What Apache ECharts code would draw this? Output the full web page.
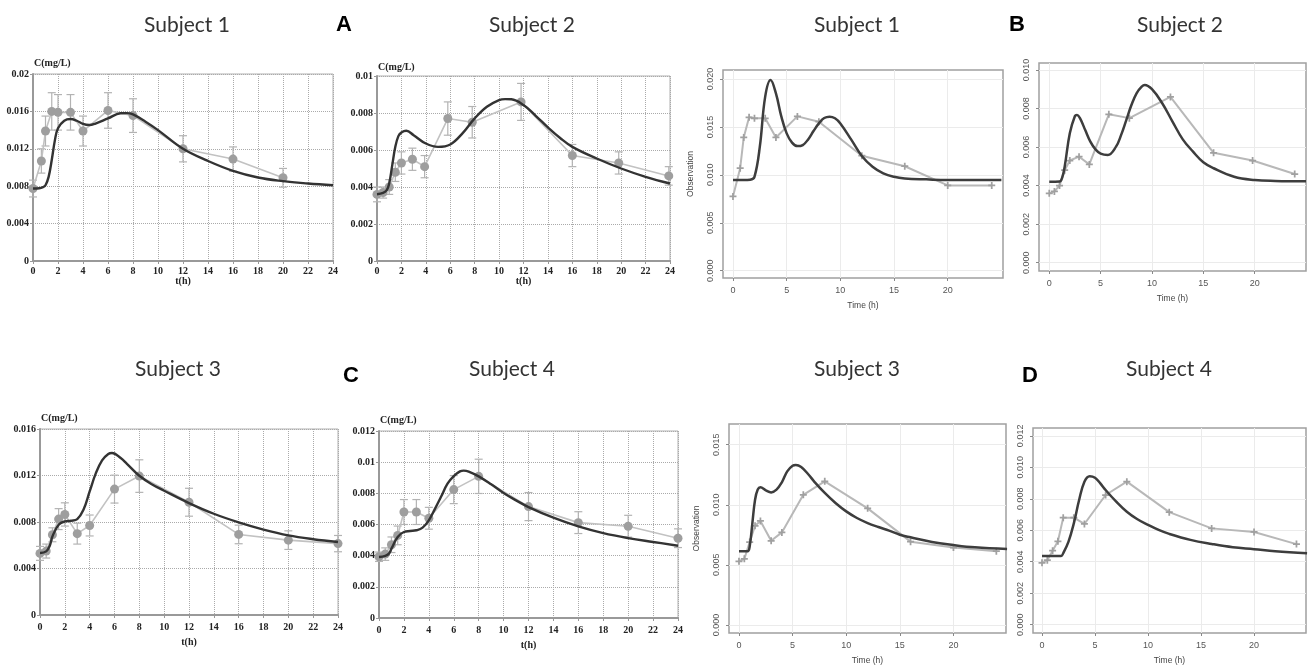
<!DOCTYPE html>
<html>
<head>
<meta charset="utf-8">
<script src="https://cdn.jsdelivr.net/npm/echarts@6/dist/echarts.min.js"></script>
<style>
  html, body { margin: 0; padding: 0; background: #fff; }
  #chart { width: 1310px; height: 669px; }
</style>
</head>
<body>
<div id="chart"></div>
<script>
// observed concentrations (mean, SD) per subject
var s1Time = [0, 0.67, 1, 1.5, 2, 3, 4, 6, 8, 12, 16, 20];
var s1Mean = [0.00775, 0.0107, 0.0139, 0.0160, 0.0159, 0.0159, 0.0139, 0.0161, 0.01555, 0.0120, 0.0109, 0.0089];
var s1Sd   = [0.0009, 0.0013, 0.0016, 0.002, 0.0019, 0.0019, 0.0016, 0.0019, 0.0018, 0.0014, 0.0013, 0.001];
var s1Late = [[24.1, 0.0089]];

var s2Time = [0, 0.5, 1, 1.5, 2, 2.9, 3.9, 5.8, 7.8, 11.8, 16, 19.8, 23.9];
var s2Mean = [0.0036, 0.0037, 0.0040, 0.0048, 0.0053, 0.0055, 0.0051, 0.0077, 0.0075, 0.0086, 0.0057, 0.0053, 0.0046];
var s2Sd   = [0.0004, 0.0003, 0.0004, 0.0005, 0.0006, 0.0006, 0.0006, 0.0009, 0.00085, 0.001, 0.0006, 0.0006, 0.0005];

var s3Time = [0, 0.5, 1, 1.5, 2, 3, 4, 6, 8, 12, 16, 20, 24];
var s3Mean = [0.0053, 0.0055, 0.0069, 0.00825, 0.00865, 0.0070, 0.0077, 0.01083, 0.01195, 0.0097, 0.00693, 0.00644, 0.00614];
var s3Sd   = [0.0006, 0.0006, 0.0006, 0.0009, 0.001, 0.0009, 0.0009, 0.0012, 0.0014, 0.0012, 0.0008, 0.0008, 0.0007];

var s4Time = [0, 0.5, 1, 1.5, 2, 3, 4, 6, 8, 12, 16, 20, 24];
var s4Mean = [0.00393, 0.0041, 0.0047, 0.0053, 0.0068, 0.0068, 0.0064, 0.00824, 0.00909, 0.00715, 0.00612, 0.00589, 0.00512];
var s4Sd   = [0.0003, 0.0004, 0.0005, 0.0006, 0.0008, 0.0008, 0.0007, 0.0009, 0.0011, 0.0009, 0.0007, 0.0007, 0.0006];

// fitted curves, panels A / C
var s1Fit = [[0,0.00775],[0.5,0.00778],[0.8,0.0079],[1,0.0081],[1.25,0.009],[1.5,0.0108],[1.75,0.0129],[2,0.0142],[2.5,0.015],[3,0.01518],[3.5,0.015],[4,0.01466],[4.5,0.01454],[5,0.0147],[6,0.01525],[7,0.0158],[7.5,0.01582],[8,0.01568],[9,0.0149],[10,0.014],[12,0.012],[14,0.0107],[16,0.00964],[18,0.00893],[20,0.00854],[22,0.00829],[24,0.0081]];
var s2Fit = [[0,0.00361],[0.5,0.00368],[0.8,0.00383],[1,0.00419],[1.25,0.00518],[1.5,0.00617],[1.75,0.00675],[2,0.00695],[2.4,0.00704],[3,0.0068],[4,0.00635],[5,0.00617],[6,0.0063],[7,0.0069],[8,0.00771],[9,0.00834],[10,0.0087],[10.5,0.00875],[11,0.00874],[12,0.00843],[13,0.00785],[14,0.00722],[15,0.00665],[16,0.00617],[18,0.00554],[20,0.005],[22,0.00455],[24,0.00419]];
var s3Fit = [[0,0.00533],[0.5,0.00547],[0.8,0.006],[1,0.00676],[1.5,0.00776],[2,0.00805],[2.5,0.00811],[3,0.00825],[3.5,0.00905],[4,0.01063],[4.5,0.0122],[5,0.0133],[5.5,0.01385],[5.8,0.01393],[6.5,0.0135],[7,0.01301],[8,0.01198],[9,0.01125],[10,0.01069],[12,0.00963],[14,0.00871],[16,0.00797],[18,0.00735],[20,0.00685],[22,0.00652],[24,0.00628]];
var s4Fit = [[0,0.00391],[0.5,0.00398],[0.8,0.00413],[1,0.00445],[1.5,0.0052],[2,0.00552],[2.5,0.00558],[3,0.00563],[3.5,0.0058],[4,0.00627],[4.5,0.00702],[5,0.00781],[5.5,0.00862],[6,0.00911],[6.5,0.00941],[6.8,0.00946],[7.2,0.0094],[8,0.00909],[9,0.00858],[10,0.00802],[11,0.00755],[12,0.00712],[14,0.00644],[16,0.00588],[18,0.00545],[20,0.00513],[22,0.00488],[24,0.00464]];

// model predictions, panels B / D
var s1Pop = [[0,0.00946],[1,0.00946],[1.6,0.0095],[2,0.0098],[2.5,0.01294],[3,0.01816],[3.5,0.0199],[4,0.0185],[4.5,0.0161],[5,0.01433],[5.5,0.01336],[6,0.0130],[6.5,0.01311],[7,0.0137],[7.5,0.01457],[8,0.01537],[8.5,0.01593],[9,0.01607],[9.5,0.0159],[10,0.01537],[11,0.0137],[12,0.01197],[13,0.01085],[14,0.01016],[15,0.0098],[16,0.00963],[18,0.00953],[20,0.00946],[25,0.00946]];
var s2Pop = [[0,0.0042],[1,0.00421],[1.25,0.0044],[1.5,0.00498],[2,0.00671],[2.5,0.00761],[2.7,0.00766],[3,0.00749],[3.5,0.00688],[4,0.00628],[4.5,0.00588],[5,0.00566],[5.7,0.00559],[6.5,0.00602],[7,0.00663],[7.5,0.0074],[8,0.00818],[8.5,0.00879],[9,0.00913],[9.3,0.00922],[10,0.009],[11,0.00827],[12,0.00732],[13,0.0064],[14,0.00576],[15,0.00521],[16,0.0049],[18,0.00446],[20,0.00429],[22,0.00424],[25,0.00422]];
var s3Pop = [[0,0.00613],[0.8,0.00613],[1,0.00654],[1.25,0.00848],[1.5,0.01042],[1.75,0.01126],[2,0.01145],[2.5,0.0112],[3,0.01103],[3.5,0.01126],[4,0.01187],[4.5,0.01278],[5,0.01325],[5.3,0.01331],[5.8,0.01314],[6.5,0.0125],[7,0.01195],[8,0.01098],[9,0.01015],[10,0.00945],[11,0.0089],[12,0.00848],[13,0.00815],[14,0.00785],[15,0.00751],[16,0.00729],[18,0.0069],[20,0.00665],[22,0.00646],[25,0.00632]];
var s4Pop = [[0,0.00437],[1.8,0.00437],[2,0.00454],[2.5,0.00528],[3,0.00644],[3.5,0.00792],[4,0.00909],[4.5,0.00944],[5,0.00934],[5.5,0.00898],[6,0.00856],[7,0.00782],[8,0.00718],[9,0.0067],[10,0.00634],[11,0.00602],[12,0.00577],[14,0.00539],[16,0.00513],[18,0.00492],[20,0.0048],[22,0.00467],[25,0.00454]];

// tick labels
var timeTicksB = [0, 5, 10, 15, 20];
var obsTicks1 = [0, 0.005, 0.01, 0.015, 0.02];
var obsTicks2 = [0, 0.002, 0.004, 0.006, 0.008, 0.01];
var obsTicks3 = [0, 0.005, 0.01, 0.015];
var obsTicks4 = [0, 0.002, 0.004, 0.006, 0.008, 0.01, 0.012];

var SERIF = '"Liberation Serif", "DejaVu Serif", serif';
var SANS = '"Liberation Sans", Arial, sans-serif';
var PLUS = 'path://M3,0h2v3h3v2h-3v3h-2v-3h-3v-2h3z';

function pairs(t, v) {
  return t.map(function (x, i) { return [x, v[i]]; });
}
function errRows(t, m, sd) {
  return t.map(function (x, i) { return [x, m[i] - sd[i], m[i] + sd[i]]; });
}

function errorBar(params, api) {
  var x = api.value(0);
  var top = api.coord([x, api.value(2)]);
  var bot = api.coord([x, api.value(1)]);
  var w = 4;
  var st = { stroke: '#b3b3b3', lineWidth: 1.2 };
  return {
    type: 'group',
    children: [
      { type: 'line', shape: { x1: top[0], y1: top[1], x2: bot[0], y2: bot[1] }, style: st },
      { type: 'line', shape: { x1: top[0] - w, y1: top[1], x2: top[0] + w, y2: top[1] }, style: st },
      { type: 'line', shape: { x1: bot[0] - w, y1: bot[1], x2: bot[0] + w, y2: bot[1] }, style: st }
    ]
  };
}

var grids = [
  { left: 33, top: 74, width: 300, height: 187 },
  { left: 377, top: 76, width: 293, height: 185 },
  { left: 723, top: 70, width: 280, height: 208 },
  { left: 1039, top: 63, width: 267, height: 208 },
  { left: 40, top: 429, width: 298, height: 186 },
  { left: 379, top: 431, width: 299, height: 187 },
  { left: 729, top: 424, width: 277, height: 209 },
  { left: 1033, top: 428, width: 273, height: 205 }
];
grids.forEach(function (g, i) {
  var rPanel = i === 2 || i === 3 || i === 6 || i === 7;
  g.show = true;
  g.backgroundColor = 'transparent';
  g.borderColor = rPanel ? '#a0a0a0' : '#b0b0b0';
  g.borderWidth = rPanel ? 1.5 : 1;
});

var boldLabel = { fontFamily: SERIF, fontWeight: 'bold', fontSize: 10, color: '#222' };

function leftX(i, gap, margin) {
  return {
    gridIndex: i, type: 'value', min: 0, max: 24, interval: 2,
    name: 't(h)', nameLocation: 'middle', nameGap: gap, nameTextStyle: boldLabel,
    axisLine: { show: true, onZero: false, lineStyle: { color: '#999', width: 2 } },
    axisTick: { show: true, length: 3, lineStyle: { color: '#999' } },
    axisLabel: Object.assign({ margin: margin }, boldLabel),
    splitLine: { show: true, lineStyle: { color: '#aaa', type: 'dotted', width: 1 } }
  };
}
function leftY(i, max, step, gap) {
  return {
    gridIndex: i, type: 'value', min: 0, max: max, interval: step,
    name: 'C(mg/L)', nameLocation: 'end', nameGap: gap,
    nameTextStyle: Object.assign({ align: 'left', verticalAlign: 'middle', padding: [0, 0, 0, 1] }, boldLabel),
    axisLine: { show: true, onZero: false, lineStyle: { color: '#999', width: 2 } },
    axisTick: { show: true, length: 3, lineStyle: { color: '#999' } },
    axisLabel: Object.assign({ margin: 4 }, boldLabel),
    splitLine: { show: true, lineStyle: { color: '#aaa', type: 'dotted', width: 1 } }
  };
}
function rightX(i, min, max) {
  return {
    gridIndex: i, type: 'value', min: min, max: max,
    name: 'Time (h)', nameLocation: 'middle', nameGap: 23, nameMoveOverlap: false,
    nameTextStyle: { fontFamily: SANS, fontSize: 8.5, color: '#444' },
    axisLine: { show: false, onZero: false },
    axisTick: { show: true, length: 3, customValues: timeTicksB, lineStyle: { color: '#888' } },
    axisLabel: { customValues: timeTicksB, fontFamily: SANS, fontSize: 9, color: '#555', margin: 8 },
    splitLine: { show: true, lineStyle: { color: '#ebebeb', width: 1 } }
  };
}
function rightY(i, min, max, ticks, withName) {
  return {
    gridIndex: i, type: 'value', min: min, max: max,
    name: withName ? 'Observation' : '', nameLocation: 'middle', nameGap: 28, nameRotate: 90,
    nameMoveOverlap: false,
    nameTextStyle: { fontFamily: SANS, fontSize: 8.5, color: '#444' },
    axisLine: { show: false, onZero: false },
    axisTick: { show: true, length: 3, customValues: ticks, lineStyle: { color: '#888' } },
    axisLabel: {
      customValues: ticks, rotate: 90, fontFamily: SANS, fontSize: 9, color: '#555', margin: 8,
      formatter: function (v) { return v.toFixed(3); }
    },
    splitLine: { show: true, lineStyle: { color: '#ebebeb', width: 1 } }
  };
}

var xAxes = [
  leftX(0, 13, 5), leftX(1, 13, 5),
  rightX(2, -0.93, 25.15), rightX(3, -1.0, 25.0),
  leftX(4, 22, 7), leftX(5, 22, 7),
  rightX(6, -0.93, 24.9), rightX(7, -0.85, 24.9)
];
var yAxes = [
  leftY(0, 0.02, 0.004, 11), leftY(1, 0.01, 0.002, 9),
  rightY(2, -0.00076, 0.02094, obsTicks1, true), rightY(3, -0.00043, 0.01036, obsTicks2, false),
  leftY(4, 0.016, 0.004, 11), leftY(5, 0.012, 0.002, 11),
  rightY(6, -0.00067, 0.01672, obsTicks3, true), rightY(7, -0.00053, 0.0125, obsTicks4, false)
];

var series = [];
function leftPanel(i, t, m, sd, fit) {
  series.push({
    type: 'custom', xAxisIndex: i, yAxisIndex: i, renderItem: errorBar,
    data: errRows(t, m, sd), encode: { x: 0, y: [1, 2] }, z: 2, silent: true
  });
  series.push({
    type: 'line', xAxisIndex: i, yAxisIndex: i, data: pairs(t, m),
    symbol: 'circle', symbolSize: 9, itemStyle: { color: '#9e9e9e' },
    lineStyle: { color: '#c2c2c2', width: 1.6 }, z: 3
  });
  series.push({
    type: 'line', xAxisIndex: i, yAxisIndex: i, data: fit, smooth: 0.4,
    symbol: 'none', lineStyle: { color: '#333', width: 2.4 }, z: 4
  });
}
function rightPanel(i, obs, pop) {
  series.push({
    type: 'line', xAxisIndex: i, yAxisIndex: i, data: obs,
    symbol: PLUS, symbolSize: 7, itemStyle: { color: '#a0a0a0' },
    lineStyle: { color: '#b8b8b8', width: 2 }, z: 3
  });
  series.push({
    type: 'line', xAxisIndex: i, yAxisIndex: i, data: pop, smooth: 0.4,
    symbol: 'none', lineStyle: { color: '#3d3d3d', width: 2.5 }, z: 4
  });
}

leftPanel(0, s1Time, s1Mean, s1Sd, s1Fit);
leftPanel(1, s2Time, s2Mean, s2Sd, s2Fit);
rightPanel(2, pairs(s1Time, s1Mean).concat(s1Late), s1Pop);
rightPanel(3, pairs(s2Time, s2Mean), s2Pop);
leftPanel(4, s3Time, s3Mean, s3Sd, s3Fit);
leftPanel(5, s4Time, s4Mean, s4Sd, s4Fit);
rightPanel(6, pairs(s3Time, s3Mean), s3Pop);
rightPanel(7, pairs(s4Time, s4Mean), s4Pop);

function caption(text, x, y) {
  return { type: 'text', x: x, y: y, silent: true,
    style: { text: text, align: 'center', verticalAlign: 'middle', font: '21px Lato, "Open Sans", sans-serif', fill: '#333' } };
}
function letter(text, x, y) {
  return { type: 'text', x: x, y: y, silent: true,
    style: { text: text, align: 'center', verticalAlign: 'middle', font: 'bold 22px "Liberation Sans", Arial, sans-serif', fill: '#000' } };
}

var chart = echarts.init(document.getElementById('chart'), null, { renderer: 'canvas' });
chart.setOption({
  animation: false,
  backgroundColor: '#fff',
  grid: grids,
  xAxis: xAxes,
  yAxis: yAxes,
  series: series,
  graphic: [
    caption('Subject 1', 187, 25), letter('A', 344, 25),
    caption('Subject 2', 532, 25),
    caption('Subject 1', 857, 25), letter('B', 1017, 25),
    caption('Subject 2', 1180, 25),
    caption('Subject 3', 178, 369), letter('C', 351, 376),
    caption('Subject 4', 512, 369),
    caption('Subject 3', 857, 369), letter('D', 1030, 376),
    caption('Subject 4', 1169, 369)
  ]
});
</script>
</body>
</html>
